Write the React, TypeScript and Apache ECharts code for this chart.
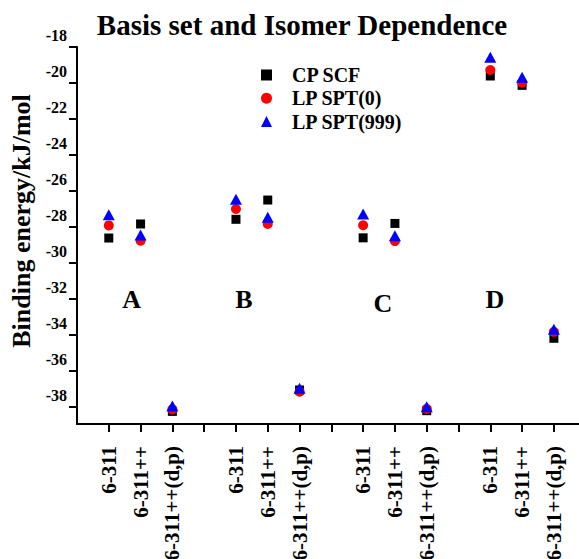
import React, { useEffect, useRef } from "react";
import * as echarts from "echarts";

const positions = [1, 2, 3, 5, 6, 7, 9, 10, 11, 13, 14, 15];
const basisLabels = [
  "6-311", "6-311++", "6-311++(d,p)",
  "6-311", "6-311++", "6-311++(d,p)",
  "6-311", "6-311++", "6-311++(d,p)",
  "6-311", "6-311++", "6-311++(d,p)",
];
const cpScf = [-28.61, -27.83, -38.24, -27.57, -26.5, -37.05, -28.6, -27.8, -38.2, -19.61, -20.13, -34.18];
const lpSpt0 = [-27.91, -28.76, -38.13, -27.0, -27.83, -37.15, -27.9, -28.78, -38.1, -19.28, -19.98, -33.82];
const lpSpt999 = [-27.32, -28.44, -37.94, -26.46, -27.46, -36.96, -27.28, -28.48, -37.98, -18.57, -19.68, -33.68];
const yTicks = [-18, -20, -22, -24, -26, -28, -30, -32, -34, -36, -38];
const xTicks = [1, 2, 3, 4, 5, 6, 7, 8, 9, 10, 11, 12, 13, 14, 15];
const groupNames = ["A", "B", "C", "D"];

const FONT = "'Liberation Serif', 'Times New Roman', serif";

export default function App() {
  const ref = useRef<HTMLDivElement>(null);
  useEffect(() => {
    const chart = echarts.init(ref.current!, null, { renderer: "svg" });
    const pts = (vals: number[]) => vals.map((v, i) => [positions[i], v]);
    const groupPos = [
      [131.7, 299],
      [244, 299],
      [383, 303],
      [495, 299],
    ];
    chart.setOption({
      animation: false,
      grid: {
        left: 77,
        top: 47,
        right: 0,
        bottom: 135,
        containLabel: false,
        outerBoundsMode: "none",
      },
      xAxis: {
        type: "value",
        min: 0,
        max: 15.79,
        splitLine: { show: false },
        axisLine: { lineStyle: { color: "#000", width: 2 } },
        axisTick: {
          show: true,
          length: 8,
          inside: false,
          customValues: xTicks,
          lineStyle: { color: "#000", width: 2 },
        },
        axisLabel: {
          customValues: positions,
          rotate: 90,
          margin: 22,
          color: "#000",
          fontFamily: FONT,
          fontWeight: "bold",
          fontSize: 21,
          formatter: (v: number) => {
            const i = positions.indexOf(v);
            return i >= 0 ? basisLabels[i] : "";
          },
        },
      },
      yAxis: {
        type: "value",
        min: -38.94,
        max: -18,
        splitLine: { show: false },
        axisLine: { show: true, lineStyle: { color: "#000", width: 2 } },
        axisTick: {
          show: true,
          length: 8,
          customValues: yTicks,
          lineStyle: { color: "#000", width: 2 },
        },
        axisLabel: {
          customValues: yTicks,
          margin: 10,
          color: "#000",
          fontFamily: FONT,
          fontWeight: "bold",
          fontSize: 16,
          verticalAlign: "bottom",
          padding: [0, 0, 4, 0],
        },
      },
      legend: {
        orient: "vertical",
        left: 261,
        top: 65,
        padding: 0,
        itemWidth: 11,
        itemHeight: 11,
        itemGap: 3.3,
        itemStyle: { opacity: 1 },
        textStyle: {
          fontFamily: FONT,
          fontWeight: "bold",
          fontSize: 20,
          lineHeight: 20,
          color: "#000",
          padding: [0, 0, 0, 15],
        },
        data: ["CP SCF", "LP SPT(0)", "LP SPT(999)"],
      },
      graphic: [
        {
          type: "text",
          x: 302,
          y: 25,
          style: {
            text: "Basis set and Isomer Dependence",
            font: `bold 29px ${FONT}`,
            fill: "#000",
            align: "center",
            verticalAlign: "middle",
          },
        },
        {
          type: "text",
          x: 21,
          y: 221,
          rotation: Math.PI / 2,
          style: {
            text: "Binding energy/kJ/mol",
            font: `bold 26px ${FONT}`,
            fill: "#000",
            align: "center",
            verticalAlign: "middle",
          },
        },
        ...groupNames.map((g, i) => ({
          type: "text",
          x: groupPos[i][0],
          y: groupPos[i][1],
          style: {
            text: g,
            font: `bold 26px ${FONT}`,
            fill: "#000",
            align: "center",
            verticalAlign: "middle",
          },
        })),
      ],
      series: [
        {
          name: "CP SCF",
          type: "scatter",
          symbol: "rect",
          symbolSize: 9,
          itemStyle: { color: "#000", opacity: 1 },
          data: pts(cpScf),
        },
        {
          name: "LP SPT(0)",
          type: "scatter",
          symbol: "circle",
          symbolSize: 10,
          itemStyle: { color: "#ff0000", opacity: 1 },
          data: pts(lpSpt0),
        },
        {
          name: "LP SPT(999)",
          type: "scatter",
          symbol: "triangle",
          symbolSize: [12, 11],
          itemStyle: { color: "#0000ff", opacity: 1 },
          data: pts(lpSpt999),
        },
      ],
    });
    return () => chart.dispose();
  }, []);
  return <div ref={ref} style={{ width: 579, height: 559, position: "absolute", left: 0, top: 0 }} />;
}
